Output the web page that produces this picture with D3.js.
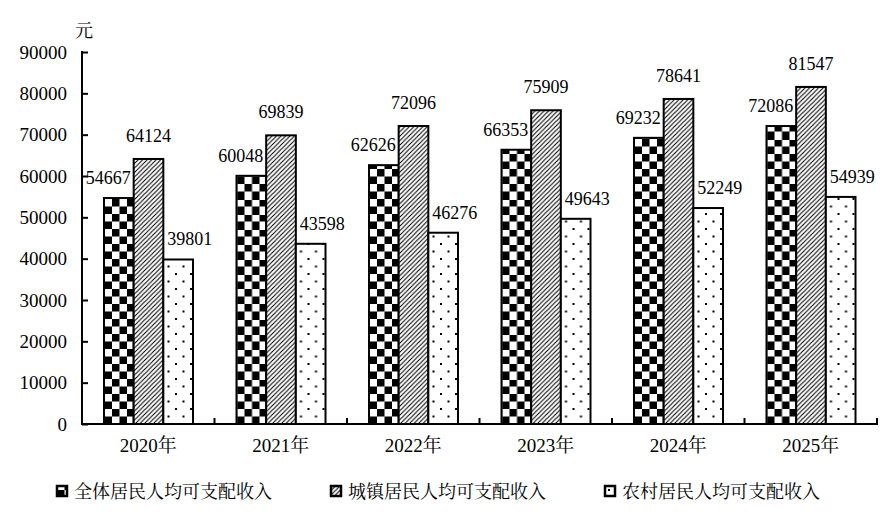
<!DOCTYPE html>
<html>
<head>
<meta charset="utf-8">
<script src="https://cdn.jsdelivr.net/npm/d3@7"></script>
<style>
  body { margin: 0; background: #fff; }
  svg { display: block; }
  svg text { font-family: "Liberation Serif", "Noto Serif CJK SC"; }
</style>
</head>
<body>
<div id="chart-area"></div>
<script>
// grouped bars - per capita disposable income

const years = ["2020年", "2021年", "2022年", "2023年", "2024年", "2025年"]
const series = ["全体居民人均可支配收入", "城镇居民人均可支配收入", "农村居民人均可支配收入"]
const allResidents = [54667, 60048, 62626, 66353, 69232, 72086]
const urbanResidents = [64124, 69839, 72096, 75909, 78641, 81547]
const ruralResidents = [39801, 43598, 46276, 49643, 52249, 54939]
const yTicks = [0, 10000, 20000, 30000, 40000, 50000, 60000, 70000, 80000, 90000]
const unitLabel = "元"

const W = 884, H = 516
const PLOT = {LEFT: 82, RIGHT: 877, TOP: 52, BOTTOM: 424}
const FONT = '"Liberation Serif", "Noto Serif CJK SC"'
const CJK_FONT = '"Noto Serif CJK SC"'

const svg = d3.select("#chart-area").append("svg")
    .attr("width", W)
    .attr("height", H)
    .style("font-family", FONT)

// fill patterns
const defs = svg.append("defs")

const checker = defs.append("pattern")
    .attr("id", "pat-checker")
    .attr("patternUnits", "userSpaceOnUse")
    .attr("width", 15).attr("height", 15)
    .attr("y", PLOT.BOTTOM)
checker.append("rect").attr("width", 15).attr("height", 15).attr("fill", "#fff")
checker.append("rect").attr("width", 7.5).attr("height", 7.5).attr("fill", "#000")
checker.append("rect").attr("x", 7.5).attr("y", 7.5).attr("width", 7.5).attr("height", 7.5).attr("fill", "#000")

const hatch = defs.append("pattern")
    .attr("id", "pat-hatch")
    .attr("patternUnits", "userSpaceOnUse")
    .attr("width", 4.5).attr("height", 4.5)
hatch.append("rect").attr("width", 4.5).attr("height", 4.5).attr("fill", "#fff")
hatch.append("path")
    .attr("d", "M-1,5.5 L5.5,-1 M-1,1 L1,-1 M3.5,5.5 L5.5,3.5")
    .attr("stroke", "#000").attr("stroke-width", 1.1)

const dots = defs.append("pattern")
    .attr("id", "pat-dots")
    .attr("patternUnits", "userSpaceOnUse")
    .attr("width", 15).attr("height", 15)
dots.append("rect").attr("width", 15).attr("height", 15).attr("fill", "#fff")
dots.append("rect").attr("x", 3).attr("y", 3).attr("width", 2).attr("height", 2).attr("fill", "#000")
dots.append("rect").attr("x", 10.5).attr("y", 10.5).attr("width", 2).attr("height", 2).attr("fill", "#000")

const fills = ["url(#pat-checker)", "url(#pat-hatch)", "url(#pat-dots)"]

// scales
const x = d3.scaleBand()
    .domain(years)
    .range([PLOT.LEFT, PLOT.RIGHT])
    .paddingInner(0)
    .paddingOuter(0)

const xInner = d3.scaleBand()
    .domain(series)
    .range([22, x.bandwidth() - 21.5])

const y = d3.scaleLinear()
    .domain([0, 90000])
    .range([PLOT.BOTTOM, PLOT.TOP])

const table = years.map((yr, i) => ({
    year: yr,
    values: [allResidents[i], urbanResidents[i], ruralResidents[i]]
}))

// bars
const groups = svg.selectAll("g.year")
    .data(table)
    .enter().append("g")
      .attr("class", "year")
      .attr("transform", d => `translate(${x(d.year)},0)`)

groups.selectAll("rect")
    .data(d => d.values.map((v, j) => ({key: series[j], value: v, j: j})))
    .enter().append("rect")
      .attr("x", d => xInner(d.key))
      .attr("y", d => y(d.value))
      .attr("width", xInner.bandwidth())
      .attr("height", d => y(0) - y(d.value))
      .attr("fill", d => fills[d.j])
      .attr("stroke", "#000")
      .attr("stroke-width", 2)

// value labels
groups.selectAll("text.val")
    .data(d => d.values.map((v, j) => ({key: series[j], value: v, j: j})))
    .enter().append("text")
      .attr("class", "val")
      .style("font-family", FONT)
      .style("font-size", "18px")
      .attr("fill", "#000")
      .attr("text-anchor", d => ["end", "middle", "start"][d.j])
      .attr("x", d => {
          if (d.j === 0) return xInner(d.key) + xInner.bandwidth() - 3
          if (d.j === 1) return xInner(d.key) + xInner.bandwidth() / 2
          return xInner(d.key) + 4
      })
      .attr("y", d => y(d.value) - (d.j === 1 ? 17 : 14))
      .text(d => d.value)

// y axis
const yAxisCall = d3.axisLeft(y)
    .tickValues(yTicks)
    .tickSize(-6)
    .tickPadding(15)
    .tickFormat(d => d)

const yAxis = svg.append("g")
    .attr("class", "y axis")
    .attr("transform", `translate(${PLOT.LEFT},0)`)
    .call(yAxisCall)
    .attr("font-family", null)
yAxis.select(".domain").remove()
yAxis.selectAll("line").attr("stroke", "#000").attr("stroke-width", 2)
yAxis.selectAll("text")
    .style("font-family", FONT)
    .style("font-size", "19px")
    .attr("fill", "#000")
yAxis.append("line")
    .attr("y1", PLOT.TOP - 1).attr("y2", PLOT.BOTTOM)
    .attr("stroke", "#000").attr("stroke-width", 2)

// x axis - labels centred in bands, ticks on band edges
const xAxisCall = d3.axisBottom(x)
    .tickSize(0)
    .tickPadding(15)

const xAxis = svg.append("g")
    .attr("class", "x axis")
    .attr("transform", `translate(0,${PLOT.BOTTOM})`)
    .call(xAxisCall)
    .attr("font-family", null)
xAxis.select(".domain").remove()
xAxis.selectAll(".tick text")
    .style("font-family", FONT)
    .style("font-size", "19px")
    .attr("fill", "#000")

xAxis.append("line")
    .attr("x1", PLOT.LEFT - 1).attr("x2", PLOT.RIGHT + 1)
    .attr("stroke", "#000").attr("stroke-width", 2)

const boundaries = years.map(yr => x(yr) + x.bandwidth())
xAxis.selectAll("line.boundary")
    .data(boundaries)
    .enter().append("line")
      .attr("class", "boundary")
      .attr("x1", d => d).attr("x2", d => d)
      .attr("y1", 0).attr("y2", -6)
      .attr("stroke", "#000").attr("stroke-width", 2)

// unit label
svg.append("text")
    .attr("x", 75)
    .attr("y", 37)
    .style("font-family", CJK_FONT)
    .style("font-size", "18px")
    .attr("fill", "#000")
    .text(unitLabel)

// legend
const legend = svg.selectAll("g.legend")
    .data(series)
    .enter().append("g")
      .attr("class", "legend")
      .attr("transform", (d, i) => `translate(${57 + i * 274},486)`)

legend.append("rect")
    .attr("width", 10).attr("height", 10)
    .attr("fill", (d, i) => fills[i])
    .attr("stroke", "#000")
    .attr("stroke-width", 2.5)

legend.append("text")
    .attr("x", 17)
    .attr("y", 12)
    .style("font-family", CJK_FONT)
    .style("font-size", "18px")
    .attr("fill", "#000")
    .text(d => d)
</script>
</body>
</html>
